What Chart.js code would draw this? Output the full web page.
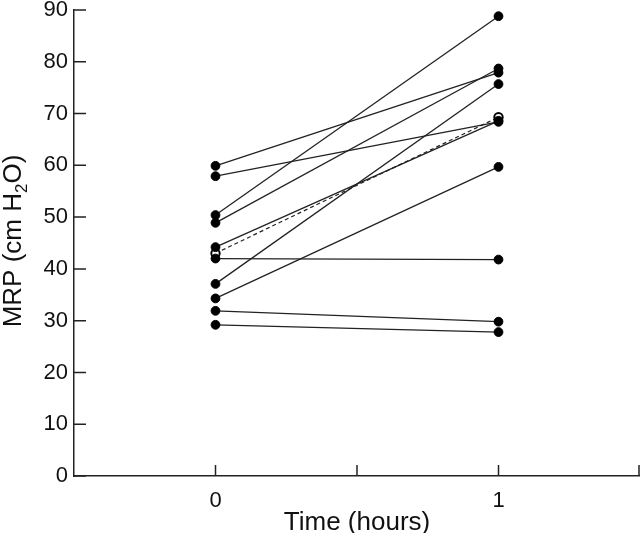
<!DOCTYPE html>
<html>
<head>
<meta charset="utf-8">
<script src="https://cdn.jsdelivr.net/npm/chart.js@4/dist/chart.umd.min.js"></script>
<style>
  html, body { margin: 0; padding: 0; background: #fff; overflow: hidden; }
  #wrap { width: 640px; height: 533px; }
  canvas { display: block; }
</style>
</head>
<body>
<div id="wrap"><canvas id="mrp-chart"></canvas></div>
<script>
// MRP at time 0 and 1 hour, one entry per subject
var mrpTime0 = [59.9, 57.9, 50.4, 48.9, 44.2, 42.0, 37.1, 34.3, 31.9, 29.2];
var mrpTime1 = [77.9, 68.4, 88.8, 78.7, 68.6, 41.8, 75.7, 59.7, 29.8, 27.8];
// the open-circle series drawn with a dashed line
var openTime0 = 43.0;
var openTime1 = 69.3;
var timePoints = [0, 1];
var yTicks = [0, 10, 20, 30, 40, 50, 60, 70, 80, 90];
var xTickMarks = [0, 0.5, 1, 1.5];

var FONT = "'Liberation Sans', Arial, Helvetica, sans-serif";
var INK = '#222';

var datasets = [];
for (var i = 0; i < mrpTime0.length; i++) {
    datasets.push({
        data: [{ x: timePoints[0], y: mrpTime0[i] }, { x: timePoints[1], y: mrpTime1[i] }],
        showLine: true,
        borderColor: INK,
        borderWidth: 1.3,
        pointRadius: 4.4,
        pointBackgroundColor: '#000',
        pointBorderColor: '#000',
        pointBorderWidth: 1
    });
}
datasets.push({
    data: [{ x: timePoints[0], y: openTime0 }, { x: timePoints[1], y: openTime1 }],
    showLine: true,
    borderColor: INK,
    borderWidth: 1.2,
    borderDash: [4, 3],
    pointRadius: 4.2,
    pointBackgroundColor: '#fff',
    pointBorderColor: '#000',
    pointBorderWidth: 2
});

// inward tick marks and the axis titles
var axisDecor = {
    id: 'axisDecor',
    afterDraw: function (chart) {
        var ctx = chart.ctx;
        var xs = chart.scales.x, ys = chart.scales.y;
        var area = chart.chartArea;
        ctx.save();
        ctx.strokeStyle = INK;
        ctx.lineWidth = 1.5;
        ctx.beginPath();
        xTickMarks.forEach(function (v) {
            var px = Math.min(xs.getPixelForValue(v), chart.width - 1);
            ctx.moveTo(px, area.bottom);
            ctx.lineTo(px, area.bottom - 11);
        });
        yTicks.forEach(function (v) {
            var py = ys.getPixelForValue(v);
            ctx.moveTo(area.left, py);
            ctx.lineTo(area.left + 12, py);
        });
        ctx.stroke();

        ctx.fillStyle = '#111';
        // x title
        ctx.font = '26px ' + FONT;
        ctx.textAlign = 'center';
        ctx.textBaseline = 'alphabetic';
        ctx.fillText('Time (hours)', xs.getPixelForValue(0.5), 530);

        // y title with subscript
        ctx.translate(21, 241);
        ctx.rotate(-Math.PI / 2);
        var p1 = 'MRP (cm H', p2 = '2', p3 = 'O)';
        ctx.font = '26px ' + FONT;
        var w1 = ctx.measureText(p1).width, w3 = ctx.measureText(p3).width;
        ctx.font = '17px ' + FONT;
        var w2 = ctx.measureText(p2).width;
        var x0 = -(w1 + w2 + w3) / 2;
        ctx.textAlign = 'left';
        ctx.font = '26px ' + FONT;
        ctx.fillText(p1, x0, 0);
        ctx.font = '17px ' + FONT;
        ctx.fillText(p2, x0 + w1, 6);
        ctx.font = '26px ' + FONT;
        ctx.fillText(p3, x0 + w1 + w2, 0);
        ctx.restore();
    }
};

new Chart(document.getElementById('mrp-chart'), {
    type: 'scatter',
    data: { datasets: datasets },
    options: {
        responsive: true,
        maintainAspectRatio: false,
        animation: false,
        layout: { autoPadding: false, padding: { top: 10, right: 0, left: 0, bottom: 0 } },
        plugins: {
            legend: { display: false },
            tooltip: { enabled: false }
        },
        scales: {
            x: {
                type: 'linear',
                min: -0.5,
                max: 1.5,
                afterBuildTicks: function (scale) {
                    scale.ticks = timePoints.map(function (v) { return { value: v }; });
                },
                afterFit: function (scale) {
                    scale.height = 57;
                    scale.paddingLeft = 0;
                    scale.paddingRight = 0;
                },
                grid: { display: false, drawTicks: false },
                border: { display: true, color: INK, width: 1.5 },
                ticks: {
                    color: '#111',
                    padding: 12,
                    font: { family: FONT, size: 22 },
                    callback: function (v) { return String(v); }
                }
            },
            y: {
                min: 0,
                max: 90,
                afterBuildTicks: function (scale) {
                    scale.ticks = yTicks.map(function (v) { return { value: v }; });
                },
                afterFit: function (scale) {
                    scale.width = 74;
                    scale.paddingTop = 0;
                    scale.paddingBottom = 0;
                },
                grid: { display: false, drawTicks: false },
                border: { display: true, color: INK, width: 1.5 },
                ticks: {
                    color: '#111',
                    padding: 6,
                    font: { family: FONT, size: 22 }
                }
            }
        }
    },
    plugins: [axisDecor]
});
</script>
</body>
</html>
